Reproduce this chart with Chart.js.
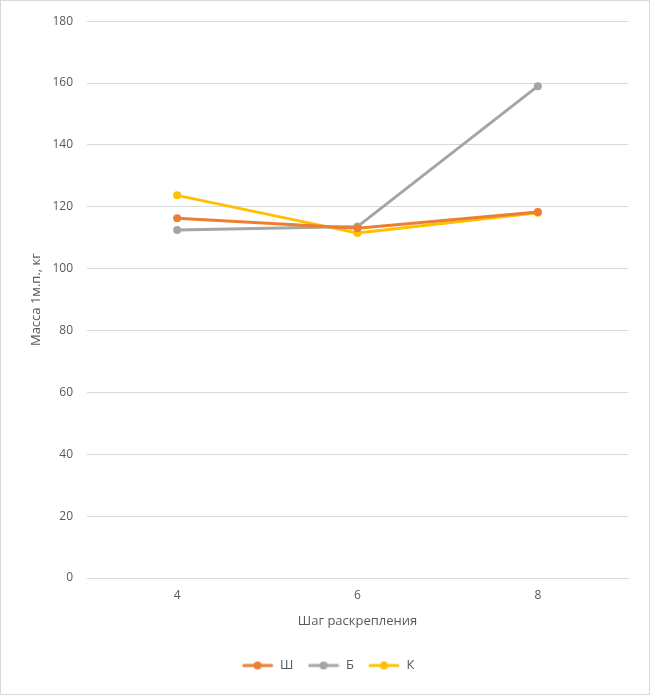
<!DOCTYPE html>
<html>
<head>
<meta charset="utf-8">
<script src="https://cdn.jsdelivr.net/npm/chart.js@4/dist/chart.umd.min.js"></script>
<style>
  html, body { margin: 0; padding: 0; background: #fff; }
  #wrap { width: 650px; height: 695px; position: relative; }
</style>
</head>
<body>
<div id="wrap"><canvas id="chart" width="650" height="695"></canvas></div>
<script>
const categories = ['4', '6', '8'];
const seriesNames = ['Ш', 'Б', 'К'];
const valuesSh = [116.3, 113.1, 118.3];
const valuesB = [112.5, 113.6, 159.0];
const valuesK = [123.7, 111.5, 118.1];
const colors = ['#ED7D31', '#A5A5A5', '#FFC000'];

const fontFamily = '"Open Sans", "Liberation Sans", sans-serif';
const textColor = '#595959';
const gridColor = '#D9D9D9';

// legend symbol: short line with a dot, like the spreadsheet legend
function legendIcon(color) {
  const c = document.createElement('canvas');
  c.width = 32; c.height = 12;
  const g = c.getContext('2d');
  g.strokeStyle = color; g.lineWidth = 3; g.lineCap = 'round';
  g.beginPath(); g.moveTo(2, 6); g.lineTo(30, 6); g.stroke();
  g.fillStyle = color;
  g.beginPath(); g.arc(16, 6, 4, 0, Math.PI * 2); g.fill();
  return c;
}

const borderPlugin = {
  id: 'border',
  beforeDraw(chart) {
    const ctx = chart.ctx;
    ctx.save();
    ctx.fillStyle = '#fff';
    ctx.fillRect(0, 0, chart.width, chart.height);
    ctx.strokeStyle = gridColor;
    ctx.lineWidth = 1;
    ctx.strokeRect(0.5, 0.5, chart.width - 1, chart.height - 1);
    ctx.restore();
  }
};

function makeSet(i, data) {
  return {
    label: seriesNames[i],
    data: data,
    borderColor: colors[i],
    backgroundColor: colors[i],
    borderWidth: 3,
    pointRadius: 4,
    pointHoverRadius: 4,
    pointBorderWidth: 0,
    tension: 0
  };
}

new Chart(document.getElementById('chart'), {
  type: 'line',
  data: {
    labels: categories,
    datasets: [makeSet(0, valuesSh), makeSet(1, valuesB), makeSet(2, valuesK)]
  },
  options: {
    responsive: false,
    animation: false,
    layout: { padding: { left: 28, right: 22, top: 21, bottom: 13 } },
    plugins: {
      tooltip: { enabled: false },
      legend: {
        position: 'bottom',
        labels: {
          usePointStyle: true,
          pointStyleWidth: 32,
          color: textColor,
          font: { family: fontFamily, size: 13 },
          padding: 14,
          generateLabels(chart) {
            return chart.data.datasets.map((ds, i) => ({
              text: ds.label,
              fillStyle: ds.borderColor,
              strokeStyle: ds.borderColor,
              fontColor: textColor,
              pointStyle: legendIcon(ds.borderColor),
              datasetIndex: i,
              hidden: false
            }));
          }
        }
      }
    },
    scales: {
      x: {
        offset: true,
        grid: { display: false, drawTicks: false },
        border: { color: gridColor },
        ticks: { color: textColor, font: { family: fontFamily, size: 12 }, padding: 10 },
        title: {
          display: true,
          text: 'Шаг раскрепления',
          color: textColor,
          font: { family: fontFamily, size: 13 },
          padding: { top: 6, bottom: 16 }
        },
        afterFit(s) { s.height = 67; }
      },
      y: {
        min: 0,
        max: 180,
        ticks: { stepSize: 20, color: textColor, font: { family: fontFamily, size: 12 }, padding: 14 },
        grid: { color: gridColor, drawTicks: false },
        border: { display: false },
        title: {
          display: true,
          text: 'Масса 1м.п., кг',
          color: textColor,
          font: { family: fontFamily, size: 13 },
          padding: 0
        },
        afterFit(s) { s.width = 59; }
      }
    }
  },
  plugins: [borderPlugin]
});
</script>
</body>
</html>
